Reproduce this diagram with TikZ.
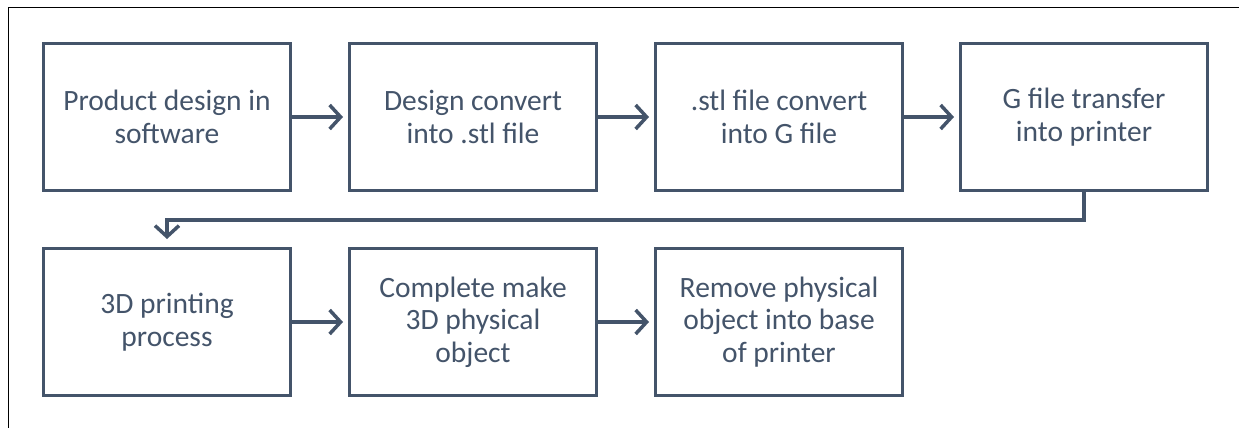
\documentclass[tikz,border=0pt]{standalone}
\usepackage{fontspec}
\setmainfont{Carlito}
\usepackage{tikz}
\usetikzlibrary{arrows.meta, positioning}
\definecolor{slatetext}{HTML}{44546A}
\tikzset{
  % Process step boxes
  stepbox/.style={
    rectangle, draw=slatetext, line width=3pt, fill=white,
    minimum width=247pt, minimum height=147pt, inner sep=0pt,
    text=slatetext, align=center,
    font=\fontsize{29.5}{32.5}\selectfont,
  },
  % Flow arrows
  flowarrow/.style={-{Straight Barb[length=11pt,width=24pt,line width=3.5pt]},
    line width=3.5pt, draw=slatetext},
}
\begin{document}
\begin{tikzpicture}[x=1pt, y=-1pt]
  \useasboundingbox (0,0) rectangle (1239,428);

  % Frame
  \draw[line width=1pt, black] (8,428) -- (8,8) -- (1239,8);

  % Top row
  \node[stepbox] (design) at (167,117) {Product design in\\software};
  \node[stepbox] (stl) at (473,117) {Design convert\\into .stl file};
  \node[stepbox] (gfile) at (779,117) {.stl file convert\\into G file};
  \node[stepbox] (transfer) at (1084,117) {G file transfer\\into printer};

  % Bottom row
  \node[stepbox] (printing) at (167,322) {3D printing\\process};
  \node[stepbox] (complete) at (473,322) {Complete make\\3D physical\\object};
  \node[stepbox] (remove) at (779,322) {Remove physical\\object into base\\of printer};

  % Arrows
  \draw[flowarrow] (design.east) -- ([xshift=-5pt]stl.west);
  \draw[flowarrow] (stl.east) -- ([xshift=-5pt]gfile.west);
  \draw[flowarrow] (gfile.east) -- ([xshift=-5pt]transfer.west);
  \draw[flowarrow] (transfer.south) |- (167,220) -- ([yshift=8pt]printing.north);
  \draw[flowarrow] (printing.east) -- ([xshift=-5pt]complete.west);
  \draw[flowarrow] (complete.east) -- ([xshift=-5pt]remove.west);

\end{tikzpicture}
\end{document}
